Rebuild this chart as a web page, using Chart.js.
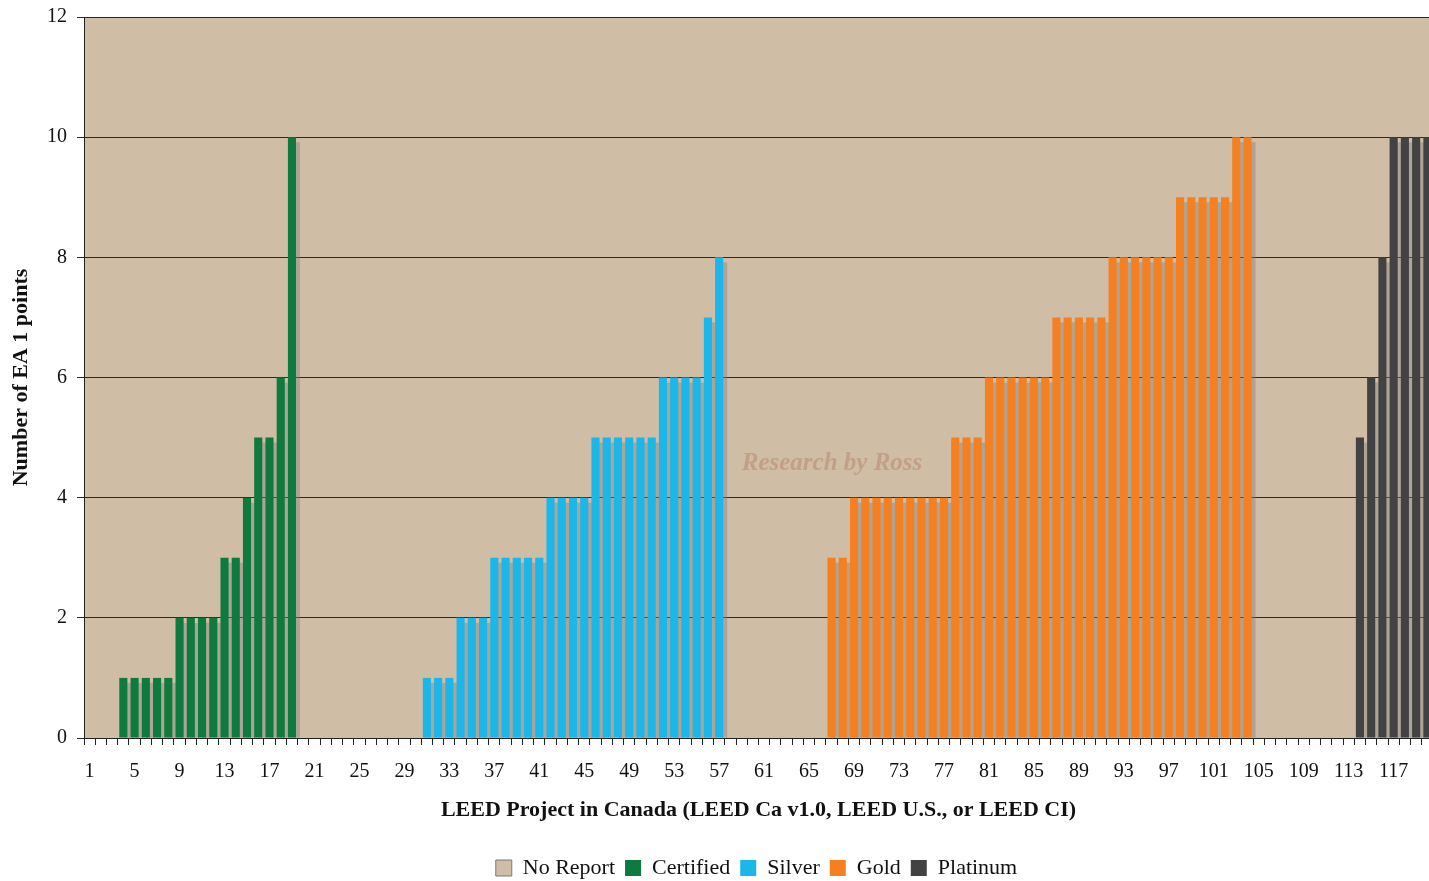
<!DOCTYPE html>
<html>
<head>
<meta charset="utf-8">
<title>EA 1 points - LEED Canada</title>
<script src="https://cdn.jsdelivr.net/npm/chart.js@4.4.1/dist/chart.umd.min.js"></script>
<style>
  html, body { margin: 0; padding: 0; background: #fff; overflow: hidden; }
  #wrap { width: 1429px; height: 881px; overflow: hidden; }
</style>
</head>
<body>
<div id="wrap"><canvas id="eaChart" width="1433" height="881"></canvas></div>
<script>
// projets 1..120 sur l'axe X
const projectCount = 120;
const projects = Array.from({ length: projectCount }, (_, i) => String(i + 1));

// points EA 1 par niveau de certification (premier projet du groupe + valeurs)
const certifiedStart = 4;
const certifiedPoints = [1, 1, 1, 1, 1, 2, 2, 2, 2, 3, 3, 4, 5, 5, 6, 10];
const silverStart = 31;
const silverPoints = [1, 1, 1, 2, 2, 2, 3, 3, 3, 3, 3, 4, 4, 4, 4, 5, 5, 5, 5, 5, 5, 6, 6, 6, 6, 7, 8];
const goldStart = 67;
const goldPoints = [3, 3, 4, 4, 4, 4, 4, 4, 4, 4, 4, 5, 5, 5, 6, 6, 6, 6, 6, 6, 7, 7, 7, 7, 7, 8, 8, 8, 8, 8, 8, 9, 9, 9, 9, 9, 10, 10];
const platinumStart = 114;
const platinumPoints = [5, 6, 8, 10, 10, 10, 10];

const yTicks = [0, 2, 4, 6, 8, 10, 12];

const FONT = '"Liberation Serif", "DejaVu Serif", serif';

// place une série sur les bons projets, null ailleurs
function spread(start, values) {
    const arr = new Array(projectCount).fill(null);
    values.forEach((v, i) => { arr[start - 1 + i] = v; });
    return arr;
}

// fond beige de la zone de tracé
const plotBackground = {
    id: 'plotBackground',
    beforeDraw(chart) {
        const { ctx, chartArea: a } = chart;
        ctx.save();
        ctx.fillStyle = '#CFBDA6';
        ctx.fillRect(a.left, a.top, a.right - a.left, a.bottom - a.top);
        ctx.restore();
    }
};

// filigrane + ombre portée des barres (dessinées avant les barres)
const underBars = {
    id: 'underBars',
    beforeDatasetsDraw(chart) {
        const { ctx, chartArea: a } = chart;
        ctx.save();
        ctx.font = 'italic bold 25px ' + FONT;
        ctx.fillStyle = 'rgba(175, 115, 85, 0.4)';
        ctx.textAlign = 'center';
        ctx.textBaseline = 'middle';
        ctx.fillText('Research by Ross', 832, a.top + (a.bottom - a.top) * 0.62);

        ctx.beginPath();
        ctx.rect(a.left, a.top, a.right - a.left, a.bottom - a.top);
        ctx.clip();
        ctx.fillStyle = 'rgba(128, 128, 128, 0.42)';
        chart.data.datasets.forEach((ds, di) => {
            const meta = chart.getDatasetMeta(di);
            meta.data.forEach((bar, i) => {
                if (ds.data[i] == null || ds.data[i] === 0) return;
                const p = bar.getProps(['x', 'y', 'base', 'width'], true);
                ctx.fillRect(p.x - p.width / 2 + 4, p.y + 5, p.width, p.base - p.y - 5);
            });
        });
        ctx.restore();
    }
};

// légende centrée sous la zone de tracé
const legendShift = {
    id: 'legendShift',
    afterLayout(chart) {
        const lg = chart.legend;
        lg.left = chart.chartArea.left;
        lg.right = 1429;
        lg.top += 8;
        lg.bottom += 8;
    }
};

const ctx = document.getElementById('eaChart').getContext('2d');
new Chart(ctx, {
    type: 'bar',
    data: {
        labels: projects,
        datasets: [
            { label: 'No Report', data: new Array(projectCount).fill(null), backgroundColor: '#CFBDA6', borderColor: '#7a7a7a', borderWidth: 1 },
            { label: 'Certified', data: spread(certifiedStart, certifiedPoints), backgroundColor: '#0E7A3D', borderWidth: 0 },
            { label: 'Silver', data: spread(silverStart, silverPoints), backgroundColor: '#1BB7EA', borderWidth: 0 },
            { label: 'Gold', data: spread(goldStart, goldPoints), backgroundColor: '#F58021', borderWidth: 0 },
            { label: 'Platinum', data: spread(platinumStart, platinumPoints), backgroundColor: '#424242', borderWidth: 0 }
        ]
    },
    options: {
        responsive: false,
        animation: false,
        devicePixelRatio: 1,
        layout: { padding: 0 },
        datasets: { bar: { categoryPercentage: 1.0, barPercentage: 0.72 } },
        plugins: {
            tooltip: { enabled: false },
            legend: {
                position: 'bottom',
                labels: {
                    color: '#111',
                    font: { family: FONT, size: 22 },
                    boxWidth: 16,
                    boxHeight: 16,
                    padding: 10
                }
            }
        },
        scales: {
            x: {
                stacked: true,
                afterFit(scale) {
                    scale.height = 101;
                    scale.paddingLeft = 0;
                    scale.paddingRight = 0;
                },
                grid: { offset: true, drawOnChartArea: false, drawTicks: true, tickLength: 7, color: '#222' },
                border: { display: true, color: '#222', width: 1 },
                ticks: {
                    autoSkip: false,
                    maxRotation: 0,
                    minRotation: 0,
                    padding: 15,
                    color: '#111',
                    font: { family: FONT, size: 20 },
                    callback(value, index) { return index % 4 === 0 ? projects[index] : ''; }
                },
                title: {
                    display: true,
                    text: 'LEED Project in Canada (LEED Ca v1.0, LEED U.S., or LEED CI)',
                    color: '#111',
                    font: { family: FONT, size: 22, weight: 'bold' },
                    padding: { top: 0, bottom: 15 }
                }
            },
            y: {
                stacked: true,
                min: 0,
                max: 12,
                afterFit(scale) {
                    scale.width = 84;
                    scale.paddingTop = 17;
                    scale.paddingBottom = 0;
                },
                afterBuildTicks(scale) { scale.ticks = yTicks.map(v => ({ value: v })); },
                grid: { color: '#2a2a2a', tickLength: 7, drawTicks: true },
                border: { display: true, color: '#222', width: 1 },
                ticks: {
                    padding: 10,
                    color: '#111',
                    font: { family: FONT, size: 20 }
                },
                title: {
                    display: true,
                    text: 'Number of EA 1 points',
                    color: '#111',
                    font: { family: FONT, size: 22, weight: 'bold' },
                    padding: { top: 8, bottom: 0 }
                }
            }
        }
    },
    plugins: [plotBackground, underBars, legendShift]
});
</script>
</body>
</html>
